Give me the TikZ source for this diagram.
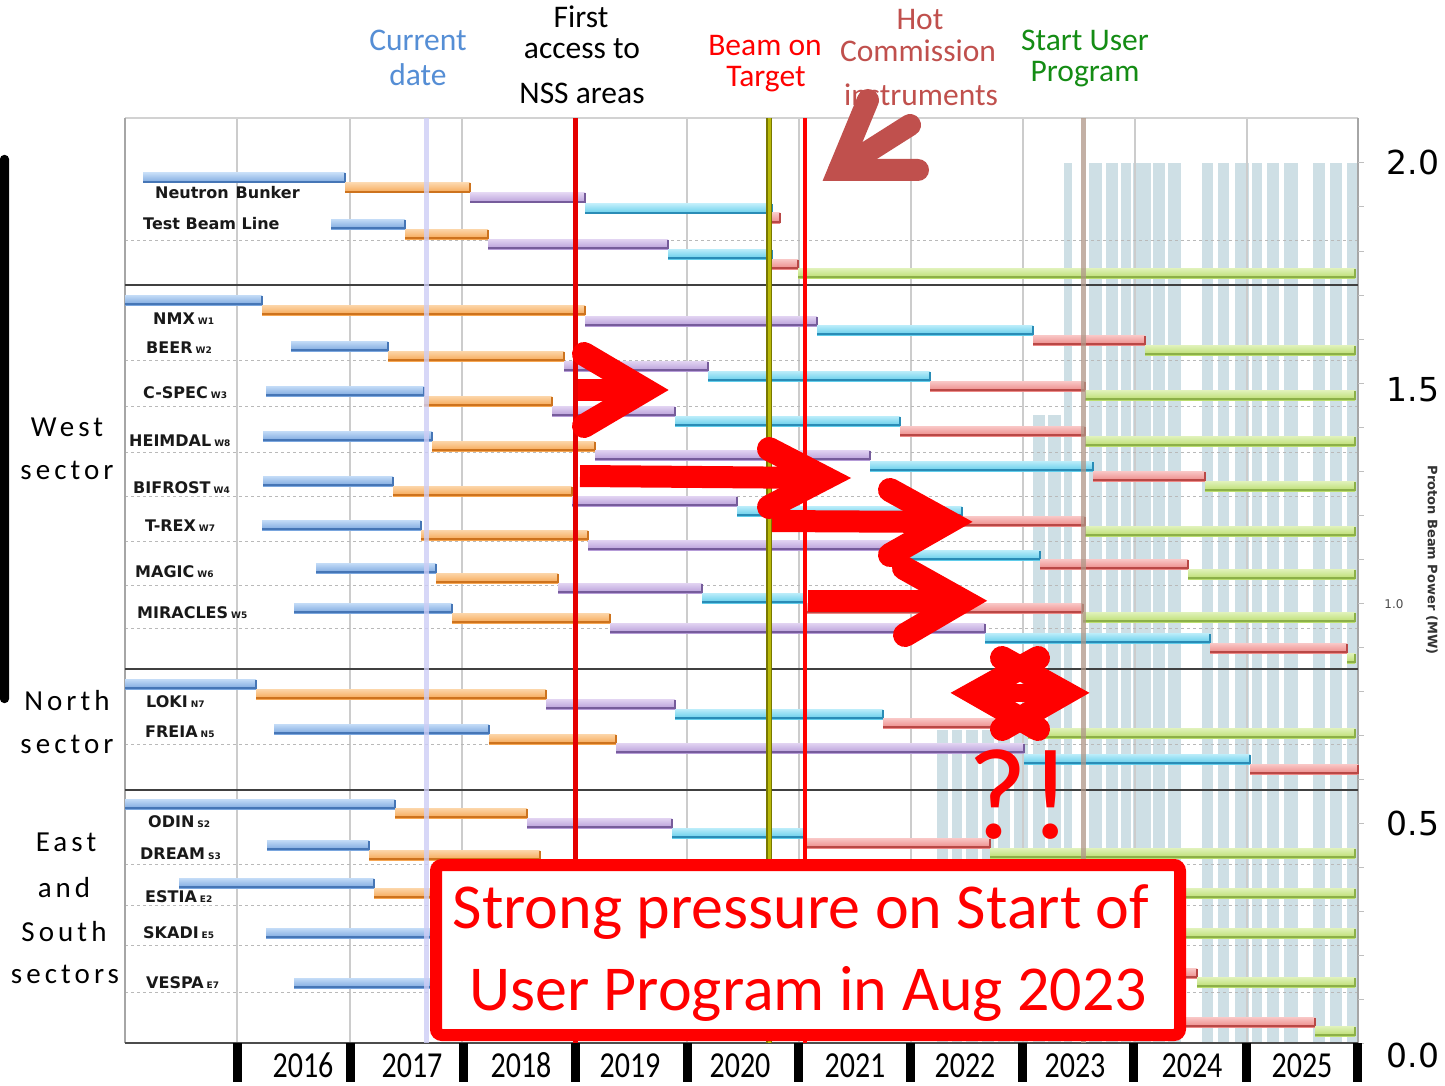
\documentclass[tikz,border=0pt]{standalone}
\usepackage{fontspec}
\usepackage{graphicx}
\setmainfont{Carlito}
\newfontfamily\djv{DejaVu Sans}
\newfontfamily\spacedfont[LetterSpace=14]{Carlito}
\definecolor{bluF}{RGB}{122,166,222}\definecolor{bluL}{RGB}{196,220,247}\definecolor{bluE}{RGB}{70,118,182}
\definecolor{orgF}{RGB}{246,166,82}\definecolor{orgL}{RGB}{252,214,170}\definecolor{orgE}{RGB}{205,115,30}
\definecolor{purF}{RGB}{182,156,216}\definecolor{purL}{RGB}{226,212,242}\definecolor{purE}{RGB}{118,92,155}
\definecolor{cyaF}{RGB}{96,204,234}\definecolor{cyaL}{RGB}{188,237,250}\definecolor{cyaE}{RGB}{42,140,182}
\definecolor{pnkF}{RGB}{236,136,134}\definecolor{pnkL}{RGB}{249,200,199}\definecolor{pnkE}{RGB}{185,72,70}
\definecolor{grnF}{RGB}{186,221,110}\definecolor{grnL}{RGB}{225,242,188}\definecolor{grnE}{RGB}{140,176,72}
\definecolor{pwrc}{RGB}{206,223,229}
\definecolor{curblue}{RGB}{85,142,213}
\definecolor{hotc}{RGB}{192,80,77}
\definecolor{sugreen}{RGB}{20,140,20}
\definecolor{lav}{RGB}{205,205,245}
\definecolor{brn}{RGB}{175,150,135}
\definecolor{olv}{RGB}{185,185,10}
\definecolor{olvd}{RGB}{120,120,0}
\newcommand\mybar[4]{%
  \shade[top color=#1L,bottom color=#1F] (#2,#4-5) rectangle (#3,#4+5);%
  \draw[#1E,line width=1.8] (#2,#4+4.2) -- (#3,#4+4.2) -- (#3,#4-4.5);%
}
\newcommand\sfx[1]{\hspace{3pt}{\fontsize{9}{9}\selectfont #1}}
\begin{document}
\begin{tikzpicture}[x=1pt,y=-1pt,
  hdr/.style={anchor=base,inner sep=0,font=\fontsize{31.5}{31.5}\selectfont},
  sect/.style={anchor=base,inner sep=0,font=\spacedfont\fontsize{29}{29}\selectfont},
  ilabel/.style={anchor=west,inner sep=0,font=\djv\bfseries\fontsize{16}{16}\selectfont,text=black!90},
  yr/.style={anchor=base,inner sep=0,font=\fontsize{30}{30}\selectfont},
  axnum/.style={inner sep=0,font=\djv\fontsize{33}{33}\selectfont},
  pwr/.style={fill=pwrc},
  gridl/.style={draw=gray!40,line width=2},
  sepdash/.style={draw=gray!55,line width=1,dash pattern=on 3pt off 3pt},
  secline/.style={draw=black!75,line width=2.5},
  bigred/.style={draw=red,line width=24,line cap=round,line join=miter},
  shaftred/.style={draw=red,line width=22}]
\useasboundingbox (0,0) rectangle (1445,1086);
\fill[white] (0,0) rectangle (1445,1086);
% beam power bars
\foreach \a/\b in {1064/1072,1089/1102,1106/1118,1121/1131,1133/1151,1153/1165,1168/1181,1202/1213,1218/1229,1235/1249,1252/1262,1267/1279,1284/1298,1313/1325,1330/1342,1347/1357}
  \fill[pwr] (\a,163) rectangle (\b,1043);
\foreach \a/\b in {1033/1045,1048/1061}
  \fill[pwr] (\a,415) rectangle (\b,1043);
\foreach \a/\b in {937/948,952/962,966/978,982/994,998/1010,1014/1028}
  \fill[pwr] (\a,730) rectangle (\b,1043);
% year gridlines
\foreach \x in {237,350,462,687,799,911,1023,1135,1247}
  \draw[gridl] (\x,118) -- (\x,1043);
% dashed separators
\foreach \y in {240,360,406,452,496,541,585,628,744,864,905,945,992}
  \draw[sepdash] (125,\y) -- (1358,\y);
% frame
\draw[gray!35,line width=2] (125,118) -- (1358,118);
\draw[gray!70,line width=2] (125,118) -- (125,1043);
\draw[gray!70,line width=2] (1358,118) -- (1358,1043);
\draw[black!70,line width=2] (125,1043) -- (1358,1043);
% right axis ticks
\foreach \k in {0,...,20}
  \draw[gray!50,line width=1] (1358,163+44*\k) -- (1364,163+44*\k);
% ---- Gantt bars ----
% top section
\mybar{blu}{143}{345}{178}\mybar{org}{345}{470}{188}\mybar{pur}{470}{585}{198}\mybar{cya}{585}{772}{209}\mybar{pnk}{772}{780}{218}
\mybar{blu}{331}{405}{224}\mybar{org}{405}{488}{234}\mybar{pur}{488}{668}{244}\mybar{cya}{668}{772}{254}\mybar{pnk}{772}{798}{264}\mybar{grn}{798}{1355}{273}
% NMX
\mybar{blu}{125}{262}{300}\mybar{org}{262}{585}{310}\mybar{pur}{585}{817}{321}\mybar{cya}{817}{1033}{330}\mybar{pnk}{1033}{1145}{340}\mybar{grn}{1145}{1355}{350}
% BEER
\mybar{blu}{291}{388}{346}\mybar{org}{388}{564}{356}\mybar{pur}{564}{708}{366}\mybar{cya}{708}{930}{376}\mybar{pnk}{930}{1085}{386}\mybar{grn}{1085}{1355}{395}
% C-SPEC
\mybar{blu}{266}{424}{391}\mybar{org}{424}{552}{401}\mybar{pur}{552}{675}{411}\mybar{cya}{675}{900}{421}\mybar{pnk}{900}{1085}{431}\mybar{grn}{1085}{1355}{441}
% HEIMDAL
\mybar{blu}{263}{432}{436}\mybar{org}{432}{595}{446}\mybar{pur}{595}{870}{455}\mybar{cya}{870}{1093}{466}\mybar{pnk}{1093}{1205}{476}\mybar{grn}{1205}{1355}{486}
% BIFROST
\mybar{blu}{263}{393}{481}\mybar{org}{393}{572}{491}\mybar{pur}{572}{737}{501}\mybar{cya}{737}{962}{511}\mybar{pnk}{962}{1085}{521}\mybar{grn}{1085}{1355}{531}
% T-REX
\mybar{blu}{262}{421}{525}\mybar{org}{421}{588}{535}\mybar{pur}{588}{905}{545}\mybar{cya}{905}{1040}{555}\mybar{pnk}{1040}{1188}{564}\mybar{grn}{1188}{1355}{574}
% MAGIC
\mybar{blu}{316}{436}{568}\mybar{org}{436}{558}{578}\mybar{pur}{558}{702}{588}\mybar{cya}{702}{805}{598}\mybar{pnk}{805}{1083}{608}\mybar{grn}{1083}{1355}{617}
% MIRACLES
\mybar{blu}{294}{452}{608}\mybar{org}{452}{610}{618}\mybar{pur}{610}{985}{628}\mybar{cya}{985}{1210}{638}\mybar{pnk}{1210}{1347}{648}\mybar{grn}{1347}{1355}{658}
% LOKI
\mybar{blu}{125}{256}{684}\mybar{org}{256}{546}{694}\mybar{pur}{546}{675}{704}\mybar{cya}{675}{883}{714}\mybar{pnk}{883}{1028}{723}\mybar{grn}{1028}{1355}{733}
% FREIA
\mybar{blu}{274}{489}{729}\mybar{org}{489}{616}{739}\mybar{pur}{616}{1024}{748}\mybar{cya}{1024}{1250}{759}\mybar{pnk}{1250}{1358}{769}
% ODIN
\mybar{blu}{125}{395}{804}\mybar{org}{395}{527}{813}\mybar{pur}{527}{672}{823}\mybar{cya}{672}{806}{833}\mybar{pnk}{806}{990}{843}\mybar{grn}{990}{1355}{853}
% DREAM, ESTIA, SKADI, VESPA
\mybar{blu}{267}{369}{845}\mybar{org}{369}{540}{855}
\mybar{blu}{179}{374}{883}\mybar{org}{374}{460}{893}
\mybar{blu}{266}{460}{933}
\mybar{blu}{294}{460}{983}
\mybar{grn}{1150}{1355}{893}\mybar{grn}{1150}{1355}{933}
\mybar{pnk}{1150}{1197}{973}\mybar{grn}{1197}{1355}{982}
\mybar{pnk}{1150}{1315}{1022}\mybar{grn}{1315}{1355}{1031}
% section lines
\foreach \y in {285,669,790}
  \draw[secline] (125,\y) -- (1358,\y);
% marker lines
\draw[lav,line width=5,opacity=0.8] (426,118) -- (426,1043);
\draw[red!90!black,line width=5] (575,118) -- (575,1043);
\draw[olvd,line width=6] (769,118) -- (769,1043);
\draw[olv,line width=3] (769,118) -- (769,1043);
\draw[red,line width=4] (805,118) -- (805,1043);
\draw[brn,line width=5,opacity=0.75] (1083,118) -- (1083,1043);
% instrument labels
\node[ilabel] (nb) at (155,193) {Neutron\hspace{7pt}Bunker};
\node[ilabel] (tbl) at (143,224) {Test Beam Line};
\node[ilabel] (nmx) at (153,319) {NMX\sfx{W1}};
\node[ilabel] (beer) at (146,348) {BEER\sfx{W2}};
\node[ilabel] (cspec) at (143,393) {C-SPEC\sfx{W3}};
\node[ilabel] (heim) at (129,441) {HEIMDAL\sfx{W8}};
\node[ilabel] (bif) at (133,488) {BIFROST\sfx{W4}};
\node[ilabel] (trex) at (145,526) {T-REX\sfx{W7}};
\node[ilabel] (magic) at (135,572) {MAGIC\sfx{W6}};
\node[ilabel] (mir) at (137,613) {MIRACLES\sfx{W5}};
\node[ilabel] (loki) at (146,702) {LOKI\sfx{N7}};
\node[ilabel] (freia) at (145,732) {FREIA\sfx{N5}};
\node[ilabel] (odin) at (148,822) {ODIN\sfx{S2}};
\node[ilabel] (dream) at (140,854) {DREAM\sfx{S3}};
\node[ilabel] (estia) at (145,897) {ESTIA\sfx{E2}};
\node[ilabel] (skadi) at (143,933) {SKADI\sfx{E5}};
\node[ilabel] (vespa) at (146,983) {VESPA\sfx{E7}};
% right axis
\node[axnum] (a20) at (1413,162) {2.0};
\node[axnum] (a15) at (1413,390) {1.5};
\node[inner sep=0,font=\djv\fontsize{12}{12}\selectfont,text=black!70] (a10) at (1394,604) {1.0};
\node[axnum] (a05) at (1413,823) {0.5};
\node[axnum] (a00) at (1413,1055) {0.0};
\node[rotate=-90,inner sep=0,font=\djv\bfseries\fontsize{13}{13}\selectfont,text=black!80] (pbp) at (1432,560) {Proton Beam Power (MW)};
% bottom ticks and years
\foreach \x in {237,350,463,575,687,798,910,1022,1133,1246,1357}
  \fill[black] (\x-4.5,1043) rectangle (\x+4.5,1082);
\node[yr] (y16) at (303,1077) {\scalebox{1}[1.22]{2016}};
\node[yr] (y17) at (412,1077) {\scalebox{1}[1.22]{2017}};
\node[yr] (y18) at (521,1077) {\scalebox{1}[1.22]{2018}};
\node[yr] (y19) at (630,1077) {\scalebox{1}[1.22]{2019}};
\node[yr] (y20) at (740,1077) {\scalebox{1}[1.22]{2020}};
\node[yr] (y21) at (855,1077) {\scalebox{1}[1.22]{2021}};
\node[yr] (y22) at (965,1077) {\scalebox{1}[1.22]{2022}};
\node[yr] (y23) at (1075,1077) {\scalebox{1}[1.22]{2023}};
\node[yr] (y24) at (1192,1077) {\scalebox{1}[1.22]{2024}};
\node[yr] (y25) at (1302,1077) {\scalebox{1}[1.22]{2025}};
% header
\node[hdr,text=curblue] (h1a) at (418,51) {Current};
\node[hdr,text=curblue] (h1b) at (418,86) {date};
\node[hdr] (h2a) at (581,28) {First};
\node[hdr] (h2b) at (582,59) {access to};
\node[hdr] (h2c) at (582,104) {NSS areas};
\node[hdr,text=red] (h3a) at (765,56) {Beam on};
\node[hdr,text=red] (h3b) at (766,87) {Target};
\node[hdr,text=hotc] (h4a) at (920,30) {Hot};
\node[hdr,text=hotc] (h4b) at (918,62) {Commission};
\node[hdr,text=hotc] (h4c) at (921,106) {instruments};
\node[hdr,text=sugreen] (h5a) at (1085,51) {Start User};
\node[hdr,text=sugreen] (h5b) at (1085,82) {Program};
% hot commissioning arrow
\draw[hotc,line width=22,line cap=round,line join=miter] (868,100) -- (839,170) -- (918,170);
\draw[hotc,line width=22,line cap=round] (839,170) -- (910,125);
% red arrows
\draw[shaftred] (578,390) -- (645,390);
\draw[bigred] (584,354) -- (645,390) -- (584,426);
\draw[shaftred] (580,476) -- (825,478);
\draw[bigred] (769,449) -- (825,478) -- (769,507);
\draw[shaftred] (772,521) -- (948,522);
\draw[bigred] (890,490) -- (948,522) -- (890,555);
\draw[shaftred] (808,601) -- (963,601);
\draw[bigred] (904,568) -- (963,601) -- (905,635);
% double arrow
\draw[draw=red,line width=18] (975,693) -- (1065,693);
\draw[bigred,line width=24] (1038,658) -- (975,693) -- (1038,729);
\draw[bigred,line width=24] (1002,658) -- (1065,693) -- (1002,729);
\node[anchor=base,inner sep=0,text=red,font=\fontsize{130}{130}\selectfont] (qm) at (998,838) {?};
\node[anchor=base,inner sep=0,text=red,font=\fontsize{130}{130}\selectfont] (em) at (1051,838) {!};
% message box
\draw[red,line width=12,fill=white,rounded corners=6] (436,865) rectangle (1180,1035);
\node[anchor=base,inner sep=0,text=red,font=\fontsize{64}{64}\selectfont] (msg1) at (801,928) {Strong pressure on Start of};
\node[anchor=base,inner sep=0,text=red,font=\fontsize{64}{64}\selectfont] (msg2) at (808,1010) {User Program in Aug 2023};
% left bar and sector labels
\fill[black,rounded corners=4] (0,155) rectangle (9,703);
\node[sect] (w1) at (67,436) {West};
\node[sect] (w2) at (67,479) {sector};
\node[sect] (n1) at (67,710) {North};
\node[sect] (n2) at (67,753) {sector};
\node[sect] (e1) at (66,851) {East};
\node[sect] (e2) at (64,897) {and};
\node[sect] (e3) at (64,941) {South};
\node[sect] (e4) at (65,983) {sectors};
\end{tikzpicture}
\end{document}
